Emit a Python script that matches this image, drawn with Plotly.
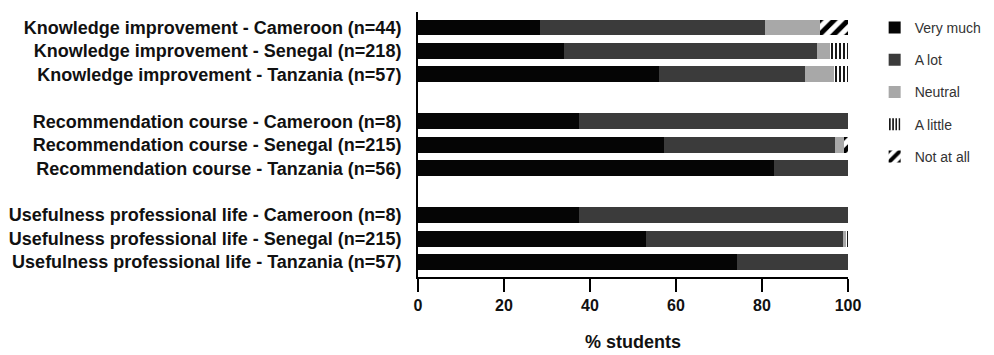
import plotly.graph_objects as go

# Survey items (top to bottom) with a blank slot between question groups
categories = [
    "Knowledge improvement - Cameroon (n=44)",
    "Knowledge improvement - Senegal (n=218)",
    "Knowledge improvement - Tanzania (n=57)",
    "Recommendation course - Cameroon (n=8)",
    "Recommendation course - Senegal (n=215)",
    "Recommendation course - Tanzania (n=56)",
    "Usefulness professional life - Cameroon (n=8)",
    "Usefulness professional life - Senegal (n=215)",
    "Usefulness professional life - Tanzania (n=57)",
]
positions = [0, 1, 2, 4, 5, 6, 8, 9, 10]

# Percentage of students per answer
very_much = [28.4, 34.0, 56.1, 37.5, 57.3, 82.9, 37.5, 53.1, 74.1]
a_lot = [52.2, 58.8, 33.8, 62.5, 39.6, 17.1, 62.5, 45.7, 25.9]
neutral = [12.8, 3.1, 6.8, 0.0, 2.1, 0.0, 0.0, 0.7, 0.0]
a_little = [0.0, 4.1, 3.3, 0.0, 0.0, 0.0, 0.0, 0.5, 0.0]
not_at_all = [6.6, 0.0, 0.0, 0.0, 1.0, 0.0, 0.0, 0.0, 0.0]

x_ticks = [0, 20, 40, 60, 80, 100]

FONT = "Liberation Sans, Arial, sans-serif"

series = [
    ("Very much", very_much, dict(color="#050505")),
    ("A lot", a_lot, dict(color="#3b3b3b")),
    ("Neutral", neutral, dict(color="#a8a8a8")),
    ("A little", a_little, dict(color="white",
                                pattern=dict(shape="|", fgcolor="#000000", bgcolor="white",
                                             fgopacity=1, size=4, solidity=0.45))),
    ("Not at all", not_at_all, dict(color="white",
                                    pattern=dict(shape="/", fgcolor="#000000", bgcolor="white",
                                                 fgopacity=1, size=10, solidity=0.5))),
]

fig = go.Figure()
for name, vals, marker in series:
    marker = dict(marker)
    marker["line"] = dict(width=0)
    fig.add_trace(go.Bar(
        name=name, x=vals, y=positions, orientation="h",
        width=0.68, marker=marker, legendgroup=name,
    ))

fig.update_layout(
    barmode="stack",
    width=994, height=355,
    margin=dict(l=418, r=146, t=12, b=78, autoexpand=False),
    plot_bgcolor="white", paper_bgcolor="white",
    font=dict(family=FONT, color="#111111"),
    showlegend=True,
    legend=dict(
        x=1.062, y=1.0, xanchor="left", yanchor="top",
        traceorder="grouped", tracegroupgap=11,
        font=dict(size=14, color="#333333"),
        itemwidth=30, bgcolor="rgba(0,0,0,0)",
    ),
    xaxis=dict(
        range=[0, 100], tickvals=x_ticks, ticktext=[f"<b>{v}</b>" for v in x_ticks],
        showline=True, linecolor="black", linewidth=2,
        ticks="outside", ticklen=13, tickwidth=2, tickcolor="black",
        showgrid=False, zeroline=False, automargin=False,
        tickfont=dict(size=16, color="#111111"),
        title=dict(text="<b>% students</b>", font=dict(size=18, color="#111111"), standoff=22),
    ),
    yaxis=dict(
        range=[10.64, -0.66], tickvals=positions, ticktext=[f"<b>{c}</b>" for c in categories],
        showline=True, linecolor="black", linewidth=2,
        ticks="", showgrid=False, zeroline=False, automargin=False,
        ticklabelstandoff=11,
        tickfont=dict(size=18, color="#111111"),
    ),
)

fig.write_html("out.html")
